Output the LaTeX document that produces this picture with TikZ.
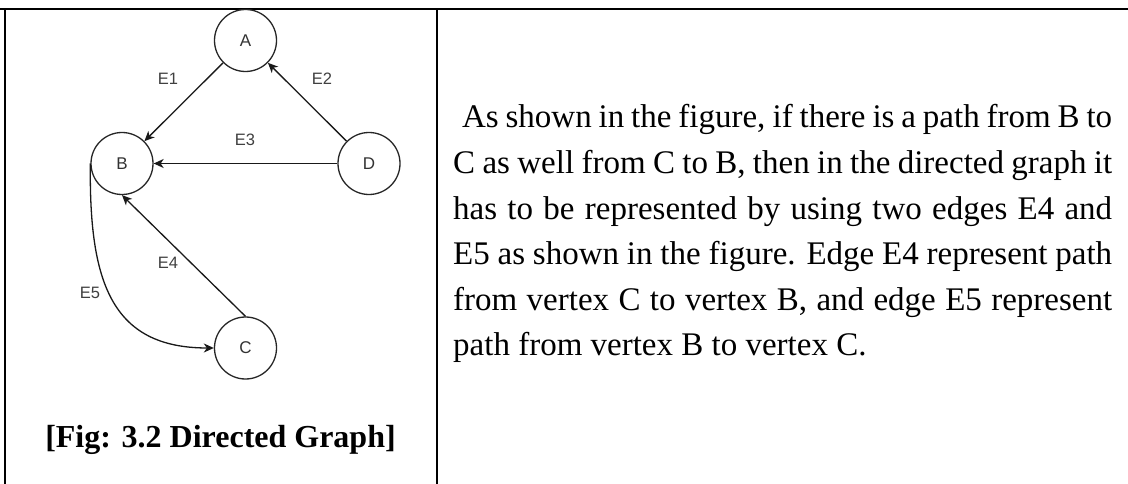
\documentclass[tikz,border=0pt]{standalone}
\usepackage{fontspec}
\setmainfont{Liberation Serif}
\newfontfamily\arialfont{Liberation Sans}
\usetikzlibrary{arrows.meta}
\begin{document}
\begin{tikzpicture}[x=1pt,y=-1pt,
  rule/.style={line width=2.2pt,line cap=rect},
  vertex/.style={circle,draw=black!85,line width=1.3pt,minimum size=62pt,inner sep=0pt,
    font=\arialfont\fontsize{17}{17}\selectfont,text=black!80},
  elabel/.style={font=\arialfont\fontsize{16.5}{16.5}\selectfont,text=black!75,inner sep=0pt},
  conn/.style={line width=1.3pt,draw=black!90,-{Stealth[length=10pt,width=9pt,inset=3pt]}},
  body/.style={font=\fontsize{33}{45.6}\selectfont,text width=659pt,align=justify,inner sep=0pt,anchor=north west},
  caption/.style={font=\bfseries\fontsize{32}{32}\selectfont,inner sep=0pt,anchor=base}]
\useasboundingbox (0,0) rectangle (1128,484);
\fill[white] (0,0) rectangle (1128,484);
% table rules
\coordinate (tl) at (0,9);
\coordinate (tr) at (1128,9);
\coordinate (lt) at (5,9);
\coordinate (lb) at (5,484);
\coordinate (mt) at (437,9);
\coordinate (mb) at (437,484);
\draw[rule] (tl) -- (tr);
\draw[rule] (lt) -- (lb);
\draw[rule] (mt) -- (mb);
% graph
\node[vertex] (A) at (245.5,40.5) {A};
\node[vertex] (B) at (122,163.5) {B};
\node[vertex] (D) at (369,163.5) {D};
\node[vertex] (C) at (245.5,348) {C};
\draw[conn] (A) -- (B);
\draw[conn] (D) -- (A);
\draw[conn] (D) -- (B);
\draw[conn] (C.north) -- (B.south);
\draw[conn] (B.west) .. controls (89,280) and (110,348) .. (C.west);
\node[elabel] (l1) at (168,79) {E1};
\node[elabel] (l2) at (322,79) {E2};
\node[elabel] (l3) at (245,140) {E3};
\node[elabel] (l4) at (168,263) {E4};
\node[elabel] (l5) at (90,293) {E5};
\node[caption] (cap) at (220.5,447) {[Fig: 3.2 Directed Graph]};
% text
\node[body] (txt) at (453,104.5) {\hspace*{0.27em}As shown in the figure, if there is a path from B to\linebreak
C as well from C to B, then in the directed graph it\linebreak
has to be represented by using two edges E4 and\linebreak
E5 as shown in the figure. Edge E4 represent path\linebreak
from vertex C to vertex B, and edge E5 represent\linebreak
path from vertex B to vertex C.};
\end{tikzpicture}
\end{document}
